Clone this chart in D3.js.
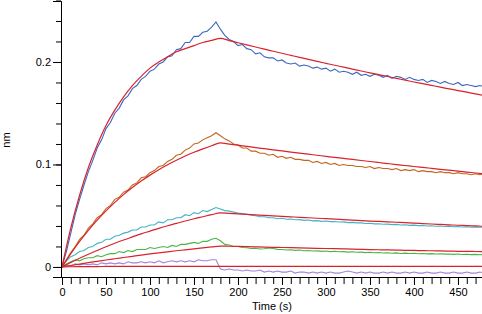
<!doctype html>
<html>
<head>
  <style>
    body { margin: 0; background: #fff; }
    svg { display: block; font-family: "Liberation Sans", Arial, sans-serif; }
  </style>
  <script src="https://cdn.jsdelivr.net/npm/d3@7"></script>
</head>
<body>
<script>
// sampling grids (s)
var time = d3.range(0, 481, 5);
var fitTime = d3.range(0, 481, 10);

// sensorgrams (nm), one value every 5 s
var blue = [0, 0.015, 0.033, 0.051, 0.066, 0.080, 0.093, 0.104, 0.116, 0.124, 0.135, 0.141, 0.150, 0.155, 0.163, 0.167,
  0.174, 0.177, 0.183, 0.186, 0.191, 0.193, 0.198, 0.200, 0.205, 0.206, 0.212, 0.213, 0.219, 0.219, 0.225, 0.225,
  0.229, 0.230, 0.234, 0.239, 0.232, 0.226, 0.222, 0.220, 0.216, 0.217, 0.213, 0.212, 0.208, 0.209, 0.205, 0.204,
  0.204, 0.201, 0.202, 0.199, 0.198, 0.199, 0.196, 0.197, 0.196, 0.194, 0.195, 0.193, 0.194, 0.191, 0.193, 0.190,
  0.191, 0.190, 0.188, 0.190, 0.187, 0.188, 0.186, 0.188, 0.187, 0.185, 0.187, 0.184, 0.186, 0.185, 0.183, 0.185,
  0.183, 0.182, 0.183, 0.180, 0.182, 0.181, 0.179, 0.181, 0.179, 0.178, 0.180, 0.177, 0.178, 0.177, 0.176, 0.177, 0.176];

var brown = [0, 0.007, 0.014, 0.020, 0.027, 0.031, 0.038, 0.042, 0.048, 0.051, 0.057, 0.060, 0.066, 0.068, 0.073, 0.075,
  0.080, 0.082, 0.087, 0.088, 0.092, 0.094, 0.098, 0.099, 0.103, 0.105, 0.109, 0.110, 0.114, 0.116, 0.120, 0.121,
  0.124, 0.126, 0.128, 0.131, 0.128, 0.125, 0.123, 0.120, 0.119, 0.116, 0.116, 0.113, 0.113, 0.111, 0.111, 0.109,
  0.110, 0.107, 0.108, 0.106, 0.107, 0.105, 0.105, 0.104, 0.104, 0.102, 0.103, 0.101, 0.102, 0.100, 0.101, 0.099,
  0.100, 0.099, 0.099, 0.098, 0.098, 0.097, 0.098, 0.096, 0.097, 0.096, 0.096, 0.095, 0.096, 0.094, 0.095, 0.094,
  0.095, 0.093, 0.094, 0.093, 0.093, 0.092, 0.093, 0.092, 0.092, 0.091, 0.092, 0.091, 0.091, 0.090, 0.091, 0.090, 0.091];

var cyan = [0, 0.006, 0.010, 0.012, 0.015, 0.016, 0.019, 0.020, 0.023, 0.024, 0.027, 0.027, 0.030, 0.031, 0.033, 0.034,
  0.036, 0.036, 0.039, 0.039, 0.041, 0.041, 0.044, 0.043, 0.046, 0.046, 0.048, 0.048, 0.051, 0.050, 0.053, 0.052,
  0.055, 0.054, 0.056, 0.058, 0.0565, 0.055, 0.0545, 0.0535, 0.0525, 0.052, 0.0515, 0.0505, 0.050, 0.049, 0.049, 0.048,
  0.048, 0.047, 0.0475, 0.0465, 0.0468, 0.046, 0.0462, 0.0455, 0.0458, 0.045, 0.0452, 0.0445, 0.0448, 0.0442, 0.0443, 0.0438,
  0.044, 0.0433, 0.0435, 0.043, 0.043, 0.0424, 0.0426, 0.042, 0.0422, 0.0416, 0.0418, 0.0413, 0.0415, 0.041, 0.0412, 0.0406,
  0.0408, 0.0403, 0.0405, 0.040, 0.0402, 0.0397, 0.040, 0.0395, 0.0398, 0.0392, 0.0395, 0.039, 0.0393, 0.0388, 0.0391, 0.0387, 0.0389];

var green = [0, 0.003, 0.005, 0.007, 0.006, 0.008, 0.009, 0.009, 0.011, 0.010, 0.012, 0.013, 0.013, 0.015, 0.014, 0.016,
  0.015, 0.017, 0.017, 0.017, 0.019, 0.018, 0.019, 0.020, 0.019, 0.021, 0.020, 0.022, 0.022, 0.023, 0.024, 0.023,
  0.025, 0.025, 0.027, 0.028, 0.0255, 0.022, 0.0215, 0.020, 0.020, 0.019, 0.0188, 0.018, 0.0182, 0.0175, 0.0178, 0.0185,
  0.018, 0.0172, 0.017, 0.0165, 0.0168, 0.0162, 0.0165, 0.0158, 0.016, 0.0155, 0.0157, 0.0152, 0.0155, 0.015, 0.0153, 0.0148,
  0.015, 0.0145, 0.0148, 0.0143, 0.0145, 0.014, 0.0143, 0.0138, 0.0141, 0.0136, 0.0139, 0.0134, 0.0137, 0.0132, 0.0135, 0.0131,
  0.0133, 0.0129, 0.0132, 0.0128, 0.013, 0.0126, 0.0129, 0.0125, 0.0127, 0.0123, 0.0126, 0.0122, 0.0124, 0.012, 0.0123, 0.0119, 0.0121];

var purple = [0, 0.002, 0.001, 0.003, 0.002, 0.003, 0.002, 0.003, 0.002, 0.004, 0.003, 0.004, 0.003, 0.004, 0.003, 0.005,
  0.004, 0.004, 0.005, 0.004, 0.005, 0.004, 0.006, 0.004, 0.005, 0.006, 0.005, 0.006, 0.005, 0.006, 0.005, 0.007,
  0.006, 0.006, 0.007, 0.007, -0.002, -0.003, -0.002, -0.003, -0.003, -0.004, -0.003, -0.004, -0.004, -0.003, -0.005, -0.004,
  -0.005, -0.004, -0.005, -0.005, -0.004, -0.006, -0.005, -0.005, -0.006, -0.005, -0.006, -0.005, -0.006, -0.005, -0.006, -0.006,
  -0.005, -0.004, -0.005, -0.006, -0.005, -0.006, -0.005, -0.006, -0.006, -0.005, -0.006, -0.005, -0.006, -0.006, -0.005, -0.006,
  -0.005, -0.006, -0.006, -0.005, -0.006, -0.006, -0.005, -0.006, -0.006, -0.005, -0.006, -0.006, -0.005, -0.006, -0.006, -0.005, -0.006];

// fitted curves (nm), one value every 10 s
var blueFit = [0, 0.038, 0.070, 0.097, 0.119, 0.138, 0.153, 0.166, 0.177, 0.186, 0.194, 0.200, 0.205, 0.210, 0.213, 0.216,
  0.219, 0.221, 0.223, 0.2209, 0.2188, 0.2167, 0.2146, 0.2125, 0.2105, 0.2085, 0.2065, 0.2045, 0.2026, 0.2006, 0.1987,
  0.1968, 0.195, 0.1931, 0.1912, 0.1894, 0.1876, 0.1858, 0.184, 0.1823, 0.1805, 0.1788, 0.1771, 0.1754, 0.1738, 0.1721,
  0.1705, 0.1688, 0.1672];
var brownFit = [0, 0.013, 0.0249, 0.0357, 0.0456, 0.0547, 0.063, 0.0706, 0.0775, 0.0838, 0.0896, 0.0949, 0.0997, 0.1041,
  0.1082, 0.1119, 0.1152, 0.1183, 0.1211, 0.1199, 0.1188, 0.1177, 0.1165, 0.1154, 0.1143, 0.1132, 0.1121, 0.1111, 0.11,
  0.109, 0.1079, 0.1069, 0.1059, 0.1049, 0.1039, 0.1029, 0.1019, 0.1009, 0.0999, 0.099, 0.098, 0.0971, 0.0962, 0.0953,
  0.0944, 0.0935, 0.0926, 0.0917, 0.0908];
var cyanFit = [0, 0.0043, 0.0085, 0.0124, 0.0161, 0.0197, 0.0231, 0.0263, 0.0293, 0.0323, 0.035, 0.0377, 0.0402, 0.0425,
  0.0448, 0.047, 0.049, 0.051, 0.0528, 0.0523, 0.0518, 0.0513, 0.0508, 0.0503, 0.0498, 0.0494, 0.0489, 0.0484, 0.048,
  0.0475, 0.0471, 0.0466, 0.0462, 0.0457, 0.0453, 0.0448, 0.0444, 0.044, 0.0436, 0.0432, 0.0427, 0.0423, 0.0419, 0.0415,
  0.0411, 0.0407, 0.0404, 0.04, 0.0396];
var greenFit = [0, 0.0014, 0.0028, 0.0042, 0.0055, 0.0068, 0.008, 0.0092, 0.0104, 0.0116, 0.0127, 0.0137, 0.0148, 0.0158,
  0.0167, 0.0177, 0.0186, 0.0195, 0.0204, 0.0202, 0.02, 0.0198, 0.0196, 0.0194, 0.0192, 0.019, 0.0188, 0.0186, 0.0184,
  0.0182, 0.018, 0.0178, 0.0176, 0.0174, 0.0172, 0.017, 0.0168, 0.0166, 0.0164, 0.0162, 0.0161, 0.0159, 0.0158, 0.0156,
  0.0155, 0.0153, 0.0152, 0.0151, 0.015];
var purpleFit = [0, 0.0002, 0.0003, 0.0004, 0.0004, 0.0005, 0.0005, 0.0005, 0.0005, 0.0005, 0.0005, 0.0005, 0.0005, 0.0005,
  0.0005, 0.0005, 0.0005, 0.0005, 0.0005, 0.0005, 0.0005, 0.0005, 0.0005, 0.0005, 0.0005, 0.0005, 0.0005, 0.0005, 0.0005,
  0.0005, 0.0005, 0.0005, 0.0005, 0.0005, 0.0005, 0.0005, 0.0005, 0.0005, 0.0005, 0.0005, 0.0005, 0.0005, 0.0005, 0.0005,
  0.0005, 0.0005, 0.0005, 0.0005, 0.0005];

var dataSeries = [purple, green, cyan, brown, blue];
var dataColors = ["#a385dc", "#4cb447", "#45b3c4", "#c0661e", "#3c67c2"];
var fits = [purpleFit, greenFit, cyanFit, brownFit, blueFit];

var W = 482, H = 314;
var svg = d3.select("body").append("svg")
  .attr("width", W)
  .attr("height", H);

var x = d3.scaleLinear().domain([0, 477.3]).range([62, 482]);
var y = d3.scaleLinear().domain([-0.0098, 0.2595]).range([277, 1]);

// sensorgrams
var dataLine = d3.line()
  .x(function(d, i) { return x(time[i]); })
  .y(function(d) { return y(d); });

svg.selectAll("path.data")
  .data(dataSeries)
  .enter()
  .append("path")
  .attr("class", "data")
  .attr("d", dataLine)
  .attr("fill", "none")
  .attr("stroke", function(d, i) { return dataColors[i]; })
  .attr("stroke-width", 1.1);

// fits
var fitLine = d3.line()
  .x(function(d, i) { return x(fitTime[i]); })
  .y(function(d) { return y(d); })
  .curve(d3.curveMonotoneX);

svg.selectAll("path.fit")
  .data(fits)
  .enter()
  .append("path")
  .attr("class", "fit")
  .attr("d", fitLine)
  .attr("fill", "none")
  .attr("stroke", "#d8232c")
  .attr("stroke-width", 1.2);

// y axis: minor ticks every 0.02, labels at 0, 0.1, 0.2
var yMinor = d3.axisLeft(y).tickValues(d3.range(0, 0.27, 0.02)).tickSize(5).tickFormat("");
var yMajor = d3.axisLeft(y).tickValues([0, 0.1, 0.2]).tickSize(8).tickPadding(2)
  .tickFormat(function(d) { return d === 0 ? "0" : d3.format(".1f")(d); });

svg.append("g").attr("transform", "translate(61,0)").call(yMinor);
svg.append("g").attr("transform", "translate(61,0)").call(yMajor);

// x axis: minor ticks every 10 s, labels every 50 s
var xMinor = d3.axisBottom(x).tickValues(d3.range(0, 477, 10)).tickSize(7).tickFormat("");
var xMajor = d3.axisBottom(x).tickValues(d3.range(0, 477, 50)).tickSize(8).tickPadding(3);

svg.append("g").attr("transform", "translate(0,277)").call(xMinor);
svg.append("g").attr("transform", "translate(0,277)").call(xMajor);

svg.selectAll(".domain").attr("stroke", "#000");
svg.selectAll(".tick line").attr("stroke", "#000");
svg.selectAll(".tick text")
  .attr("font-family", "'Liberation Sans', Arial, sans-serif")
  .attr("font-size", "11px")
  .attr("fill", "#000");

// axis titles
svg.append("text")
  .attr("x", 272)
  .attr("y", 310)
  .attr("text-anchor", "middle")
  .attr("font-size", "11px")
  .text("Time (s)");

svg.append("text")
  .attr("transform", "translate(10,140) rotate(-90)")
  .attr("text-anchor", "middle")
  .attr("font-size", "11px")
  .text("nm");
</script>
</body>
</html>
